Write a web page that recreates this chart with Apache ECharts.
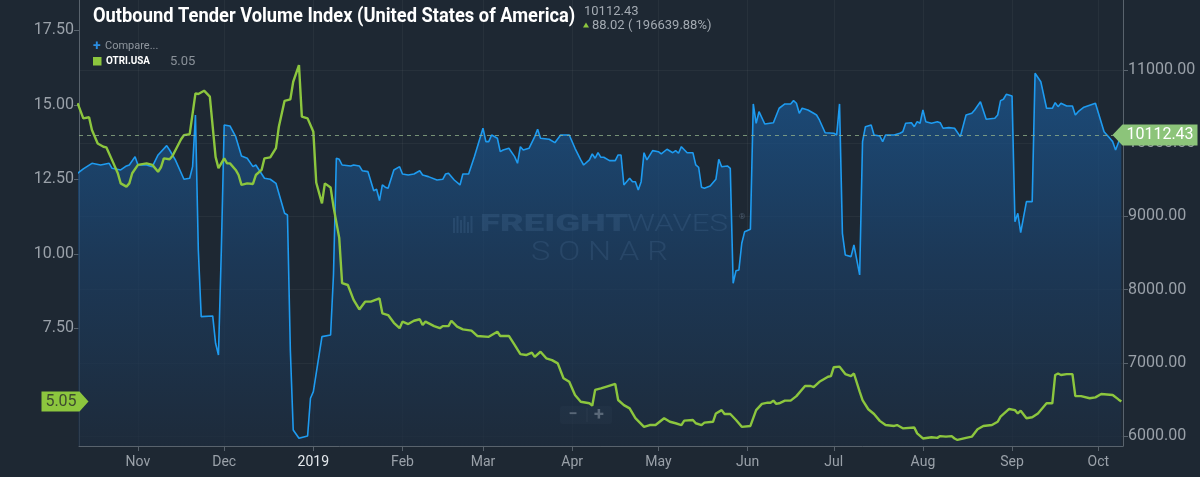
<!DOCTYPE html>
<html><head><meta charset="utf-8">
<script src="https://cdn.jsdelivr.net/npm/echarts@6/dist/echarts.min.js"></script>
<style>html,body{margin:0;padding:0;background:#1e2833;}#c{width:1200px;height:477px;}</style>
</head><body><div id="c"></div>
<script>
// ---- Outbound Tender Volume Index (blue, right axis) ----
const blueDates = [
'2018-10-11','2018-10-13','2018-10-16','2018-10-19','2018-10-22','2018-10-23','2018-10-26','2018-10-28','2018-10-29','2018-10-31',
'2018-11-01','2018-11-04','2018-11-06','2018-11-08','2018-11-11','2018-11-12','2018-11-14','2018-11-17','2018-11-19','2018-11-20',
'2018-11-21','2018-11-22','2018-11-23','2018-11-27','2018-11-28','2018-11-29','2018-11-30','2018-12-01','2018-12-03','2018-12-05',
'2018-12-07','2018-12-09','2018-12-11','2018-12-12','2018-12-15','2018-12-17','2018-12-19','2018-12-22','2018-12-23','2018-12-24',
'2018-12-25','2018-12-27','2018-12-30','2018-12-31','2019-01-01','2019-01-04','2019-01-07','2019-01-08','2019-01-09','2019-01-10',
'2019-01-11','2019-01-14','2019-01-15','2019-01-17','2019-01-18','2019-01-20','2019-01-22','2019-01-23','2019-01-24','2019-01-25',
'2019-01-26','2019-01-27','2019-01-29','2019-01-31','2019-02-01','2019-02-03','2019-02-05','2019-02-07','2019-02-08','2019-02-10',
'2019-02-13','2019-02-15','2019-02-16','2019-02-17','2019-02-19','2019-02-21','2019-02-22','2019-02-24','2019-02-26','2019-03-01',
'2019-03-02','2019-03-03','2019-03-04','2019-03-06','2019-03-07','2019-03-08','2019-03-10','2019-03-12','2019-03-13','2019-03-14',
'2019-03-15','2019-03-17','2019-03-19','2019-03-20','2019-03-21','2019-03-24','2019-03-26','2019-03-28','2019-03-31','2019-04-02',
'2019-04-04','2019-04-05','2019-04-07','2019-04-08','2019-04-09','2019-04-10','2019-04-11','2019-04-12','2019-04-14','2019-04-16',
'2019-04-17','2019-04-18','2019-04-19','2019-04-21','2019-04-22','2019-04-23','2019-04-24','2019-04-25','2019-04-26','2019-04-27',
'2019-04-29','2019-05-01','2019-05-02','2019-05-04','2019-05-06','2019-05-07','2019-05-08','2019-05-09','2019-05-11','2019-05-13',
'2019-05-14','2019-05-15','2019-05-16','2019-05-17','2019-05-19','2019-05-21','2019-05-22','2019-05-23','2019-05-25','2019-05-26',
'2019-05-27','2019-05-28','2019-05-29','2019-05-30','2019-05-31','2019-06-02','2019-06-03','2019-06-04','2019-06-05','2019-06-07',
'2019-06-10','2019-06-12','2019-06-14','2019-06-16','2019-06-17','2019-06-18','2019-06-19','2019-06-20','2019-06-22','2019-06-24',
'2019-06-25','2019-06-26','2019-06-28','2019-07-01','2019-07-02','2019-07-03','2019-07-04','2019-07-05','2019-07-07','2019-07-08',
'2019-07-10','2019-07-11','2019-07-12','2019-07-14','2019-07-15','2019-07-17','2019-07-18','2019-07-19','2019-07-22','2019-07-24',
'2019-07-25','2019-07-26','2019-07-28','2019-07-29','2019-07-30','2019-07-31','2019-08-01','2019-08-02','2019-08-04','2019-08-06',
'2019-08-07','2019-08-08','2019-08-10','2019-08-12','2019-08-14','2019-08-16','2019-08-18','2019-08-19','2019-08-21','2019-08-23',
'2019-08-26','2019-08-27','2019-08-28','2019-08-29','2019-08-30','2019-09-01','2019-09-02','2019-09-03','2019-09-04','2019-09-06',
'2019-09-08','2019-09-09','2019-09-11','2019-09-13','2019-09-15','2019-09-16','2019-09-17','2019-09-18','2019-09-20','2019-09-22',
'2019-09-23','2019-09-24','2019-09-26','2019-09-30','2019-10-03','2019-10-05','2019-10-06','2019-10-07','2019-10-09'
];
const blueValues = [
9589,9648,9725,9702,9725,9657,9634,9689,9702,9816,
9702,9702,9679,9839,9966,9907,9771,9507,9521,9679,
10385,8541,7630,7640,7266,7107,8541,10249,10235,10089,
9825,9794,9679,9702,9521,9507,9452,9042,9019,7175,
6082,5969,6000,6515,6605,7357,7380,8200,9794,9780,
9702,9689,9702,9689,9624,9611,9351,9370,9215,9429,
9398,9384,9634,9679,9579,9566,9579,9624,9566,9543,
9497,9507,9579,9589,9497,9429,9579,9579,9816,10204,
10021,10021,10112,10067,9884,9907,9930,9816,9725,9952,
9907,9930,10089,10190,10067,10053,10007,10112,10112,9930,
9771,9702,9771,9853,9794,9870,9807,9807,9761,9761,
9839,9839,9429,9521,9474,9474,9361,9474,9870,9771,
9898,9884,9853,9917,9870,9898,9862,9952,9870,9870,
9702,9671,9398,9384,9415,9507,9780,9679,9689,9657,
8086,8258,8268,8633,8791,8824,10536,10272,10430,10262,
10280,10477,10536,10536,10581,10545,10408,10477,10454,10408,
10385,10317,10143,10135,10112,10536,8769,8473,8450,8609,
8200,10021,10225,10249,10112,10098,10021,10112,10112,10135,
10157,10272,10280,10225,10294,10272,10454,10294,10272,10294,
10280,10204,10212,10204,10089,10385,10408,10454,10567,10327,
10340,10385,10581,10600,10668,10645,8928,9042,8777,9201,
9201,10955,10840,10477,10477,10553,10499,10545,10508,10508,
10385,10430,10491,10545,10157,10067,10021,9907,10112.43
];
// ---- OTRI.USA (green, left axis) ----
const greenDates = [
'2018-10-11','2018-10-13','2018-10-15','2018-10-16','2018-10-18','2018-10-20','2018-10-21','2018-10-23','2018-10-25','2018-10-26',
'2018-10-28','2018-10-29','2018-10-30','2018-11-01','2018-11-04','2018-11-06','2018-11-08','2018-11-09','2018-11-10','2018-11-12',
'2018-11-13','2018-11-16','2018-11-17','2018-11-19','2018-11-21','2018-11-22','2018-11-24','2018-11-26','2018-11-28','2018-11-29',
'2018-12-01','2018-12-02','2018-12-03','2018-12-05','2018-12-06','2018-12-07','2018-12-09','2018-12-11','2018-12-12','2018-12-14',
'2018-12-15','2018-12-17','2018-12-19','2018-12-20','2018-12-22','2018-12-24','2018-12-25','2018-12-27','2018-12-28','2018-12-30',
'2019-01-01','2019-01-02','2019-01-04','2019-01-05','2019-01-07','2019-01-08','2019-01-10','2019-01-11','2019-01-13','2019-01-15',
'2019-01-17','2019-01-19','2019-01-21','2019-01-24','2019-01-25','2019-01-27','2019-01-29','2019-01-31','2019-02-01','2019-02-03',
'2019-02-05','2019-02-07','2019-02-08','2019-02-09','2019-02-12','2019-02-14','2019-02-15','2019-02-17','2019-02-18','2019-02-20',
'2019-02-22','2019-02-25','2019-02-27','2019-03-03','2019-03-06','2019-03-07','2019-03-10','2019-03-12','2019-03-14','2019-03-16',
'2019-03-18','2019-03-19','2019-03-21','2019-03-23','2019-03-25','2019-03-27','2019-03-29','2019-03-31','2019-04-02','2019-04-04',
'2019-04-07','2019-04-08','2019-04-09','2019-04-11','2019-04-13','2019-04-16','2019-04-17','2019-04-19','2019-04-21','2019-04-23',
'2019-04-26','2019-04-28','2019-04-30','2019-05-03','2019-05-05','2019-05-07','2019-05-09','2019-05-10','2019-05-13','2019-05-14',
'2019-05-16','2019-05-17','2019-05-20','2019-05-21','2019-05-23','2019-05-24','2019-05-26','2019-05-28','2019-05-30','2019-06-02',
'2019-06-04','2019-06-06','2019-06-08','2019-06-09','2019-06-10','2019-06-11','2019-06-12','2019-06-14','2019-06-16','2019-06-18',
'2019-06-21','2019-06-23','2019-06-24','2019-06-26','2019-06-29','2019-06-30','2019-07-01','2019-07-03','2019-07-05','2019-07-07',
'2019-07-08','2019-07-10','2019-07-11','2019-07-13','2019-07-15','2019-07-17','2019-07-19','2019-07-22','2019-07-23','2019-07-25',
'2019-07-29','2019-07-30','2019-08-01','2019-08-04','2019-08-06','2019-08-07','2019-08-09','2019-08-11','2019-08-12','2019-08-13',
'2019-08-16','2019-08-18','2019-08-20','2019-08-22','2019-08-25','2019-08-27','2019-08-28','2019-08-31','2019-09-02','2019-09-03',
'2019-09-04','2019-09-06','2019-09-08','2019-09-10','2019-09-13','2019-09-15','2019-09-16','2019-09-17','2019-09-18','2019-09-20',
'2019-09-22','2019-09-23','2019-09-25','2019-09-28','2019-09-30','2019-10-02','2019-10-06','2019-10-08','2019-10-09'
];
const greenValues = [
15.06,14.55,14.59,14.16,13.71,13.60,13.58,13.15,12.71,12.37,
12.26,12.37,12.71,12.99,13.04,12.99,12.76,12.91,13.21,13.18,
13.29,13.85,13.99,14.02,15.39,15.37,15.48,15.28,13.26,12.88,
13.21,13.04,13.04,12.82,12.65,12.32,12.37,12.35,12.65,12.82,
13.21,13.24,13.55,14.27,15.14,15.19,15.78,16.34,14.61,14.55,
14.10,12.40,11.70,12.37,12.23,11.59,10.54,9.02,8.96,8.46,
8.14,8.40,8.40,8.51,8.01,7.95,7.69,7.51,7.73,7.65,
7.76,7.81,7.62,7.73,7.58,7.51,7.58,7.58,7.76,7.56,
7.47,7.43,7.25,7.22,7.39,7.25,7.25,6.95,6.64,6.61,
6.69,6.55,6.72,6.50,6.44,6.33,5.83,5.71,5.27,5.04,
4.99,4.91,5.44,5.49,5.55,5.64,5.10,4.93,4.82,4.49,
4.20,4.26,4.26,4.49,4.37,4.32,4.26,4.41,4.43,4.32,
4.26,4.34,4.37,4.65,4.76,4.63,4.63,4.43,4.20,4.23,
4.76,4.97,5.01,5.01,5.08,4.97,4.99,5.08,5.08,5.23,
5.57,5.57,5.53,5.71,5.88,5.90,6.20,6.22,5.97,5.90,
5.99,5.38,5.10,4.79,4.63,4.40,4.26,4.23,4.26,4.15,
4.18,3.98,3.81,3.85,3.83,3.89,3.87,3.89,3.81,3.76,
3.83,3.87,4.12,4.23,4.26,4.37,4.54,4.80,4.76,4.65,
4.74,4.49,4.52,4.65,4.99,4.99,5.94,5.99,5.94,5.97,
5.97,5.23,5.23,5.16,5.19,5.30,5.27,5.12,5.05
];
const leftTicks = [5, 7.5, 10, 12.5, 15, 17.5];
const rightTicks = [6000, 7000, 8000, 9000, 10000, 11000];
const monthTicks = ['2018-11-01','2018-12-01','2019-01-01','2019-02-01','2019-03-01','2019-04-01','2019-05-01','2019-06-01','2019-07-01','2019-08-01','2019-09-01','2019-10-01'];
const monthNames = ['Jan','Feb','Mar','Apr','May','Jun','Jul','Aug','Sep','Oct','Nov','Dec'];
const titleText = 'Outbound Tender Volume Index (United States of America)';
const changeText = '88.02 ( 196639.88%)';

function toTs(s) {
  const [d, t] = s.split(' ');
  const [y, m, dd] = d.split('-').map(Number);
  const h = t ? Number(t.split(':')[0]) : 0;
  return new Date(y, m - 1, dd, h).getTime();
}
const X_MIN = toTs('2018-10-11 12:00');
const X_MAX = toTs('2019-10-09 14:00');
const monthTs = monthTicks.map(toTs);
const lastBlue = blueValues[blueValues.length - 1];
const lastGreen = greenValues[greenValues.length - 1];

const axisGray = '#59636d';
const labelGray = '#9aa1a9';
const wm = 'rgba(150,175,205,0.34)';

const chart = echarts.init(document.getElementById('c'), null, {renderer: 'canvas'});
chart.setOption({
  backgroundColor: '#1e2833',
  animation: false,
  textStyle: {fontFamily: 'Roboto'},
  grid: {left: 79, right: 77, top: 0, bottom: 31},
  xAxis: {
    type: 'value', min: X_MIN, max: X_MAX, scale: true,
    axisLine: {show: true, lineStyle: {color: axisGray}},
    axisTick: {show: true, customValues: monthTs, length: 5, lineStyle: {color: axisGray}},
    axisLabel: {
      customValues: monthTs, color: labelGray, fontSize: 14, margin: 9, fontFamily: 'Roboto',
      formatter: function (v) {
        const d = new Date(v);
        return d.getMonth() === 0 ? '{y|' + d.getFullYear() + '}' : monthNames[d.getMonth()];
      },
      rich: {y: {color: '#e4e8ec', fontSize: 14, fontFamily: 'Roboto'}}
    },
    splitLine: {show: true, lineStyle: {color: 'rgba(255,255,255,0.045)', width: 1}}
  },
  yAxis: [
    {
      type: 'value', position: 'left', min: 3.557, max: 18.523,
      axisLine: {show: true, lineStyle: {color: axisGray}},
      axisTick: {show: true, customValues: leftTicks, length: 5, lineStyle: {color: axisGray}},
      axisLabel: {customValues: leftTicks, formatter: v => v.toFixed(2), color: labelGray, fontSize: 16, margin: 5, fontFamily: 'Roboto'},
      splitLine: {show: false}
    },
    {
      type: 'value', position: 'right', min: 5863, max: 11956,
      axisLine: {show: true, lineStyle: {color: axisGray}},
      axisTick: {show: true, customValues: rightTicks, length: 5, lineStyle: {color: axisGray}},
      axisLabel: {customValues: rightTicks, formatter: v => v.toFixed(2), color: labelGray, fontSize: 16, margin: 5, fontFamily: 'Roboto'},
      splitLine: {show: true, lineStyle: {color: 'rgba(255,255,255,0.045)', width: 1}}
    }
  ],
  series: [
    {
      name: 'Outbound Tender Volume Index', type: 'line', yAxisIndex: 1,
      data: blueDates.map((d, i) => [toTs(d), blueValues[i]]),
      symbol: 'none', z: 2,
      lineStyle: {color: '#1e9bf0', width: 1.6},
      areaStyle: {
        origin: 'start',
        color: new echarts.graphic.LinearGradient(0, 0, 0, 1, [
          {offset: 0, color: '#1a5a98'},
          {offset: 0.5, color: '#1b3f66'},
          {offset: 1, color: '#1d2c3e'}
        ])
      },
      markLine: {
        silent: true, symbol: 'none',
        lineStyle: {color: 'rgba(150,180,140,0.75)', type: [4, 4], width: 1},
        label: {show: false},
        data: [{yAxis: lastBlue}]
      },
      markPoint: {
        silent: true,
        symbol: 'path://M0,10 L10,0 L85,0 L85,20 L10,20 Z',
        symbolSize: [85, 21], symbolOffset: [32, 0], symbolKeepAspect: false,
        itemStyle: {color: '#8cc47a'},
        label: {show: true, position: 'inside', offset: [5, 0], color: '#ffffff', fontSize: 16, fontFamily: 'Roboto',
          formatter: () => lastBlue.toFixed(2)},
        data: [{coord: [X_MAX, lastBlue], value: lastBlue}]
      }
    },
    {
      name: 'OTRI.USA', type: 'line', yAxisIndex: 0,
      data: greenDates.map((d, i) => [toTs(d), greenValues[i]]),
      symbol: 'none', z: 3,
      lineStyle: {color: '#8cc63e', width: 2.4},
      markPoint: {
        silent: true,
        symbol: 'path://M0,0 L38,0 L47,10 L38,20 L0,20 Z',
        symbolSize: [47, 20], symbolOffset: [-14, 0], symbolKeepAspect: false,
        itemStyle: {color: '#8cc63e'},
        label: {show: true, position: 'inside', offset: [-4, 0], color: '#3d4a30', fontSize: 16, fontFamily: 'Roboto',
          formatter: () => lastGreen.toFixed(2)},
        data: [{coord: [X_MIN, lastGreen], value: lastGreen}]
      }
    }
  ],
  graphic: [
    {type: 'text', x: 93, y: 17, scaleX: 0.915, z: 10,
      style: {text: titleText, fill: '#ffffff', font: 'bold 20px Roboto', verticalAlign: 'middle'}},
    {type: 'text', x: 584, y: 12, z: 10,
      style: {text: lastBlue.toFixed(2), fill: '#a3aab2', font: '13px Roboto', verticalAlign: 'middle'}},
    {type: 'polygon', z: 10, shape: {points: [[583, 27.5], [586, 22.5], [589, 27.5]]}, style: {fill: '#8cc63e'}},
    {type: 'text', x: 592, y: 25.5, z: 10,
      style: {text: changeText, fill: '#a3aab2', font: '13px Roboto', verticalAlign: 'middle'}},
    {type: 'text', x: 93, y: 46, z: 10,
      style: {text: '+', fill: '#2b8de0', font: 'bold 14px Roboto', verticalAlign: 'middle'}},
    {type: 'text', x: 105, y: 46.5, z: 10,
      style: {text: 'Compare...', fill: '#8f969e', font: '11px Roboto', verticalAlign: 'middle'}},
    {type: 'rect', z: 10, shape: {x: 93, y: 57, width: 8.5, height: 8.5}, style: {fill: '#8cc63e'}},
    {type: 'text', x: 106, y: 61.5, z: 10, scaleX: 0.9,
      style: {text: 'OTRI.USA', fill: '#ffffff', font: 'bold 11px Roboto', verticalAlign: 'middle'}},
    {type: 'text', x: 170, y: 61.5, z: 10,
      style: {text: lastGreen.toFixed(2), fill: '#8a9199', font: '13px Roboto', verticalAlign: 'middle'}},
    {type: 'group', z: 5, children: [
      {type: 'rect', shape: {x: 453, y: 218, width: 2, height: 15}, style: {fill: wm}},
      {type: 'rect', shape: {x: 456.5, y: 216, width: 2, height: 17}, style: {fill: wm}},
      {type: 'rect', shape: {x: 460, y: 220, width: 2, height: 13}, style: {fill: wm}},
      {type: 'rect', shape: {x: 463.5, y: 216, width: 2, height: 17}, style: {fill: wm}},
      {type: 'rect', shape: {x: 467, y: 222, width: 2, height: 11}, style: {fill: wm}},
      {type: 'rect', shape: {x: 470.5, y: 216, width: 2, height: 17}, style: {fill: wm}},
      {type: 'text', x: 480, y: 225, scaleX: 1.52,
        style: {text: 'FREIGHT', fill: wm, font: '900 24px Roboto', verticalAlign: 'middle'}},
      {type: 'text', x: 627, y: 225, scaleX: 1.3,
        style: {text: 'WAVES', fill: wm, font: '300 24px Roboto', verticalAlign: 'middle'}},
      {type: 'text', x: 739, y: 217, style: {text: '®', fill: wm, font: '8px Roboto', verticalAlign: 'middle'}},
      {type: 'text', x: 531, y: 254, scaleX: 1.3,
        style: {text: 'S O N A R', fill: wm, font: '300 25px Roboto', verticalAlign: 'middle'}}
    ]},
    {type: 'group', z: 20, children: [
      {type: 'rect', shape: {x: 560, y: 406, width: 52, height: 18, r: 3}, style: {fill: '#2a3541'}},
      {type: 'rect', shape: {x: 586.5, y: 408, width: 1, height: 14}, style: {fill: 'rgba(255,255,255,0.15)'}},
      {type: 'text', x: 573, y: 415, style: {text: '−', fill: '#e6eaee', font: 'bold 16px Roboto', align: 'center', verticalAlign: 'middle'}},
      {type: 'text', x: 599, y: 415, style: {text: '+', fill: '#e6eaee', font: 'bold 18px Roboto', align: 'center', verticalAlign: 'middle'}}
    ]}
  ]
});
</script>
</body></html>
